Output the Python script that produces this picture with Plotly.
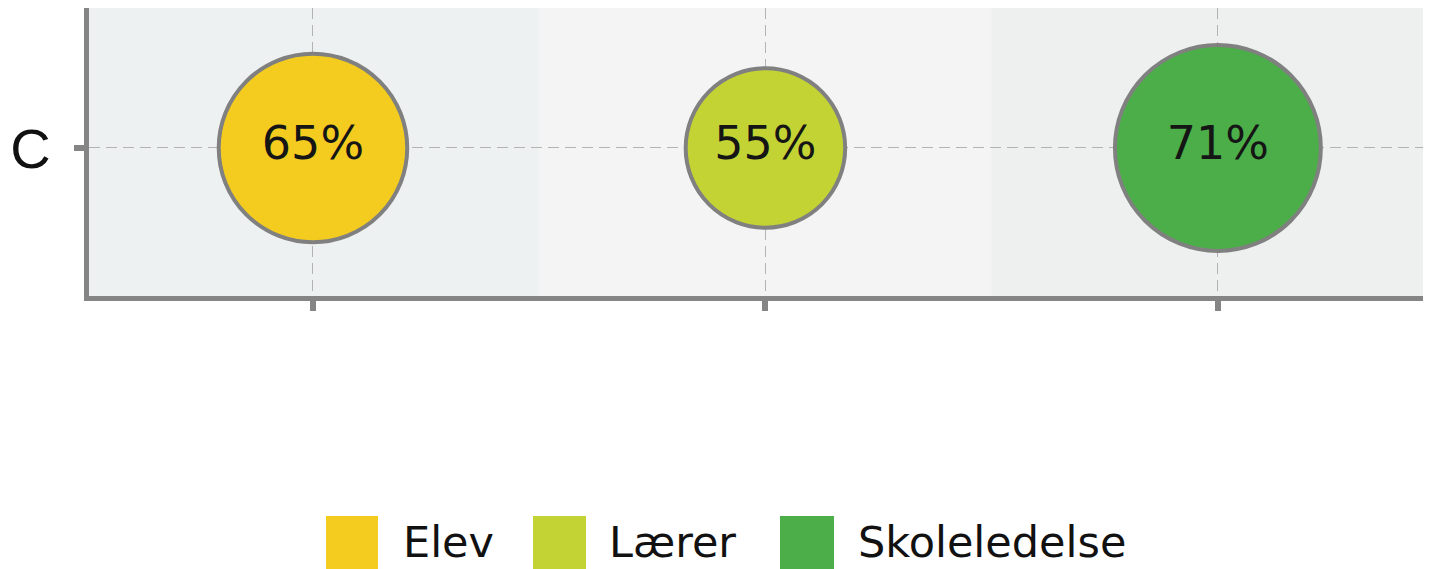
import plotly.graph_objects as go

# ---- data ----
groups = ["Elev", "Lærer", "Skoleledelse"]
row_label = ["C"]
values = [65, 55, 71]
value_labels = ["65%", "55%", "71%"]
colors = ["#F4CB1F", "#C4D334", "#4BAE48"]
band_colors = ["#EEF1F1", "#F4F4F5", "#EEF0F0"]

# page has an 8px body margin; figure sized to fit the 1431x569 window
OFF = 8
W, H = 1431 - OFF, 569 - OFF
ML, MR, MT, MB = 81, 0, 0, 273
PW, PH = W - ML - MR, H - MT - MB


def px_x(px):
    # page pixel -> paper coordinate
    return (px - OFF - ML) / PW


def px_y(py):
    return (H - MB - (py - OFF)) / PH


fig = go.Figure()
fig.add_trace(go.Scatter(
    x=groups,
    y=row_label * len(groups),
    mode="markers+text",
    text=value_labels,
    textposition="middle center",
    textfont=dict(family="DejaVu Sans", size=46, color="#151515"),
    marker=dict(
        size=values,
        sizemode="diameter",
        sizeref=1 / 2.9,
        color=colors,
        opacity=1,
        line=dict(color="#808080", width=4),
    ),
    showlegend=False,
    hoverinfo="skip",
    cliponaxis=False,
))

shapes = []
for i, g in enumerate(groups):
    shapes.append(dict(
        type="rect", xref="x", yref="paper",
        x0=i - 0.5, x1=i + 0.5, y0=0, y1=1,
        fillcolor=band_colors[i], line=dict(width=0), layer="below",
    ))

# custom legend (page pixel positions)
leg_sq = [(326, 378), (533, 586), (780, 834)]
leg_tx = [402, 608, 857]
annotations = []
for i, g in enumerate(groups):
    shapes.append(dict(
        type="rect", xref="paper", yref="paper",
        x0=px_x(leg_sq[i][0]), x1=px_x(leg_sq[i][1]),
        y0=px_y(569), y1=px_y(516),
        fillcolor=colors[i], line=dict(width=0),
    ))
    annotations.append(dict(
        xref="paper", yref="paper",
        x=px_x(leg_tx[i]), y=px_y(568),
        xanchor="left", yanchor="bottom",
        text=g, showarrow=False, borderpad=0,
        font=dict(family="DejaVu Sans", size=43, color="#111111"),
    ))

fig.update_layout(
    width=W, height=H,
    margin=dict(l=ML, r=MR, t=MT, b=MB, pad=0),
    paper_bgcolor="white",
    plot_bgcolor="#F1F2F2",
    shapes=shapes,
    annotations=annotations,
    showlegend=False,
    xaxis=dict(
        type="category",
        range=[-0.495, 2.471],
        showticklabels=False,
        showline=True, linecolor="#858585", linewidth=5,
        ticks="outside", ticklen=10, tickwidth=6, tickcolor="#858585",
        showgrid=True, gridcolor="#B3B3B3", gridwidth=1.3, griddash="11px,6px",
        zeroline=False, fixedrange=True,
    ),
    yaxis=dict(
        type="category",
        range=[-0.514, 0.486],
        showline=True, linecolor="#858585", linewidth=5,
        ticks="outside", ticklen=10, tickwidth=6, tickcolor="#858585",
        tickfont=dict(family="Liberation Sans", size=56, color="#111111"),
        ticklabelstandoff=12,
        showgrid=True, gridcolor="#B3B3B3", gridwidth=1.3, griddash="11px,6px",
        zeroline=False, fixedrange=True,
    ),
)

fig.write_html("out.html")
